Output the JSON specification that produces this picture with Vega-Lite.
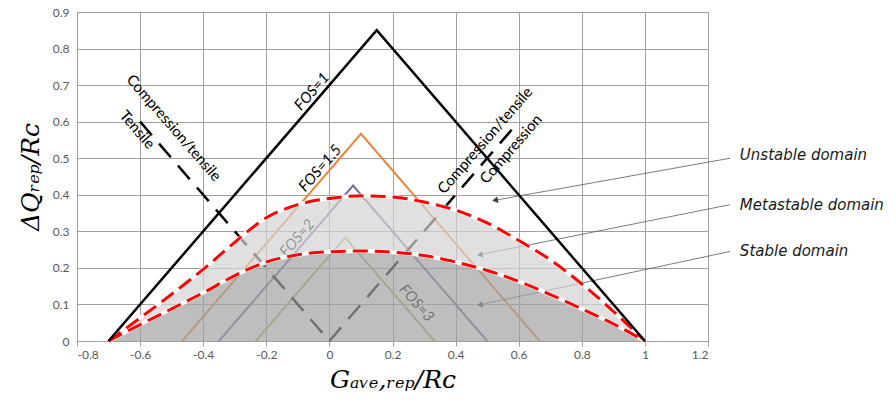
{
  "$schema": "https://vega.github.io/schema/vega-lite/v6.json",
  "width": 631,
  "height": 329,
  "autosize": {"type": "none"},
  "padding": {"left": 77, "top": 12, "right": 188, "bottom": 62},
  "background": "white",
  "config": {
    "view": {"stroke": null},
    "axis": {
      "gridColor": "#a0a0a0", "gridWidth": 1, "domainColor": "#a0a0a0", "domainWidth": 1,
      "tickColor": "#a0a0a0", "labelFont": "Lato", "labelFontSize": 12, "labelColor": "#595959",
      "titleFont": "DejaVu Serif", "titleFontStyle": "italic", "titleFontWeight": "normal",
      "titleFontSize": 25, "titleColor": "#000000"
    },
    "axisX": {"tickSize": 5, "labelPadding": 3, "titlePadding": 7},
    "axisY": {"ticks": false, "labelPadding": 8, "titlePadding": 9}
  },
  "datasets": {
    "fos": [
      {"s": "FOS=1", "x": -0.7, "y": 0}, {"s": "FOS=1", "x": 0.15, "y": 0.85}, {"s": "FOS=1", "x": 1, "y": 0},
      {"s": "FOS=1.5", "x": -0.4667, "y": 0}, {"s": "FOS=1.5", "x": 0.1, "y": 0.5667}, {"s": "FOS=1.5", "x": 0.6667, "y": 0},
      {"s": "FOS=2", "x": -0.35, "y": 0}, {"s": "FOS=2", "x": 0.075, "y": 0.425}, {"s": "FOS=2", "x": 0.5, "y": 0},
      {"s": "FOS=3", "x": -0.2333, "y": 0}, {"s": "FOS=3", "x": 0.05, "y": 0.2833}, {"s": "FOS=3", "x": 0.3333, "y": 0}
    ],
    "dashed": [
      {"s": "Tensile", "x": -0.6, "y": 0.6}, {"s": "Tensile", "x": 0, "y": 0},
      {"s": "Compression", "x": 0, "y": 0}, {"s": "Compression", "x": 0.6, "y": 0.6}
    ],
    "curves": [
      {"x": -0.7, "y": 0, "lo": 0},
      {"x": -0.6, "y": 0.063, "lo": 0.045},
      {"x": -0.5, "y": 0.128, "lo": 0.088},
      {"x": -0.4, "y": 0.196, "lo": 0.132},
      {"x": -0.3, "y": 0.27, "lo": 0.179},
      {"x": -0.2, "y": 0.337, "lo": 0.216},
      {"x": -0.1, "y": 0.373, "lo": 0.236},
      {"x": 0.0, "y": 0.39, "lo": 0.244},
      {"x": 0.1, "y": 0.397, "lo": 0.246},
      {"x": 0.2, "y": 0.394, "lo": 0.243},
      {"x": 0.3, "y": 0.38, "lo": 0.234},
      {"x": 0.4, "y": 0.358, "lo": 0.216},
      {"x": 0.5, "y": 0.323, "lo": 0.193},
      {"x": 0.6, "y": 0.275, "lo": 0.163},
      {"x": 0.7, "y": 0.222, "lo": 0.127},
      {"x": 0.8, "y": 0.156, "lo": 0.088},
      {"x": 0.9, "y": 0.081, "lo": 0.047},
      {"x": 1.0, "y": 0, "lo": 0}
    ],
    "arrows": [
      {"label": "Unstable domain", "x": 0.525, "y": 0.385, "xs": 1.27, "ys": 0.5},
      {"label": "Metastable domain", "x": 0.477, "y": 0.236, "xs": 1.27, "ys": 0.373},
      {"label": "Stable domain", "x": 0.477, "y": 0.099, "xs": 1.27, "ys": 0.245}
    ],
    "domainLabels": [
      {"t": "Unstable domain", "x": 1.301, "y": 0.51},
      {"t": "Metastable domain", "x": 1.301, "y": 0.373},
      {"t": "Stable domain", "x": 1.301, "y": 0.245}
    ],
    "fosUp": [
      {"t": "FOS=1", "x": -0.056, "y": 0.683},
      {"t": "FOS=1.5", "x": -0.03, "y": 0.473}
    ],
    "fos2": [{"t": "FOS=2", "x": -0.103, "y": 0.282}],
    "fos3": [{"t": "FOS=3", "x": 0.277, "y": 0.104}],
    "ctDown": [
      {"t": "Compression/tensile", "x": -0.493, "y": 0.583},
      {"t": "Tensile", "x": -0.609, "y": 0.578}
    ],
    "ctUp": [
      {"t": "Compression/tensile", "x": 0.493, "y": 0.549},
      {"t": "Compression", "x": 0.575, "y": 0.525}
    ]
  },
  "encoding": {
    "x": {
      "field": "x", "type": "quantitative",
      "scale": {"domain": [-0.8, 1.2], "nice": false, "zero": false},
      "axis": {
        "values": [-0.8, -0.6, -0.4, -0.2, 0, 0.2, 0.4, 0.6, 0.8, 1, 1.2],
        "labelExpr": "datum.value == 0 ? '0' : '' + round(datum.value*10)/10"
      },
      "title": "Gₐᵥₑ,ᵣₑₚ/Rᴄ"
    },
    "y": {
      "field": "y", "type": "quantitative",
      "scale": {"domain": [0, 0.9], "nice": false, "zero": false},
      "axis": {
        "values": [0, 0.1, 0.2, 0.3, 0.4, 0.5, 0.6, 0.7, 0.8, 0.9],
        "labelExpr": "datum.value == 0 ? '0' : '' + round(datum.value*10)/10"
      },
      "title": "ΔQᵣₑₚ/Rᴄ"
    }
  },
  "layer": [
    {
      "data": {"name": "fos"},
      "transform": [{"filter": "datum.s != 'FOS=1'"}],
      "mark": {"type": "line", "strokeWidth": 2},
      "encoding": {
        "color": {"field": "s", "type": "nominal", "legend": null,
          "scale": {"domain": ["FOS=1.5", "FOS=2", "FOS=3"], "range": ["#E5873A", "#7B64A2", "#9BBB59"]}}
      }
    },
    {
      "data": {"name": "dashed"},
      "mark": {"type": "line", "strokeWidth": 2.5, "color": "#000000", "strokeDash": [18, 11]},
      "encoding": {"detail": {"field": "s", "type": "nominal"}}
    },
    {
      "data": {"name": "fos2"},
      "mark": {"type": "text", "angle": -49, "font": "Lato", "fontStyle": "italic", "fontSize": 15, "color": "#000000"},
      "encoding": {"text": {"field": "t"}}
    },
    {
      "data": {"name": "fos3"},
      "mark": {"type": "text", "angle": 49, "font": "Lato", "fontStyle": "italic", "fontSize": 15, "color": "#000000"},
      "encoding": {"text": {"field": "t"}}
    },
    {
      "data": {"name": "arrows"},
      "mark": {"type": "rule", "color": "#595959", "strokeWidth": 0.8},
      "encoding": {"x2": {"field": "xs"}, "y2": {"field": "ys"}}
    },
    {
      "data": {"name": "arrows"},
      "mark": {"type": "point", "shape": "triangle-right", "angle": 169, "size": 45, "filled": true, "color": "#404040", "opacity": 1},
      "encoding": {}
    },
    {
      "data": {"name": "curves"},
      "mark": {"type": "area", "interpolate": "monotone", "color": "#d3d3d3", "fillOpacity": 0.7},
      "encoding": {"y2": {"field": "lo"}}
    },
    {
      "data": {"name": "curves"},
      "mark": {"type": "area", "interpolate": "monotone", "color": "#a3a3a3", "fillOpacity": 0.7},
      "encoding": {
        "y": {"field": "lo", "type": "quantitative", "scale": {"domain": [0, 0.9], "nice": false, "zero": false}, "title": "ΔQᵣₑₚ/Rᴄ"},
        "y2": {"datum": 0}
      }
    },
    {
      "data": {"name": "curves"},
      "mark": {"type": "line", "interpolate": "monotone", "color": "#ffffff", "strokeWidth": 4},
      "encoding": {}
    },
    {
      "data": {"name": "curves"},
      "mark": {"type": "line", "interpolate": "monotone", "color": "#ffffff", "strokeWidth": 4},
      "encoding": {
        "y": {"field": "lo", "type": "quantitative", "scale": {"domain": [0, 0.9], "nice": false, "zero": false}, "title": "ΔQᵣₑₚ/Rᴄ"}
      }
    },
    {
      "data": {"name": "curves"},
      "mark": {"type": "line", "interpolate": "monotone", "color": "#ff0000", "strokeWidth": 3, "strokeDash": [15, 7]},
      "encoding": {}
    },
    {
      "data": {"name": "curves"},
      "mark": {"type": "line", "interpolate": "monotone", "color": "#ff0000", "strokeWidth": 3, "strokeDash": [15, 7]},
      "encoding": {
        "y": {"field": "lo", "type": "quantitative", "scale": {"domain": [0, 0.9], "nice": false, "zero": false}, "title": "ΔQᵣₑₚ/Rᴄ"}
      }
    },
    {
      "data": {"name": "fos"},
      "transform": [{"filter": "datum.s == 'FOS=1'"}],
      "mark": {"type": "line", "strokeWidth": 2.5, "color": "#000000"},
      "encoding": {}
    },
    {
      "data": {"name": "fosUp"},
      "mark": {"type": "text", "angle": -49, "font": "Lato", "fontStyle": "italic", "fontSize": 15, "color": "#000000"},
      "encoding": {"text": {"field": "t"}}
    },
    {
      "data": {"name": "ctDown"},
      "mark": {"type": "text", "angle": 49, "font": "Lato", "fontSize": 15, "color": "#000000"},
      "encoding": {"text": {"field": "t"}}
    },
    {
      "data": {"name": "ctUp"},
      "mark": {"type": "text", "angle": -49, "font": "Lato", "fontSize": 15, "color": "#000000"},
      "encoding": {"text": {"field": "t"}}
    },
    {
      "data": {"name": "domainLabels"},
      "mark": {"type": "text", "align": "left", "baseline": "middle", "font": "DejaVu Sans", "fontStyle": "italic", "fontSize": 15, "color": "#1a1a1a"},
      "encoding": {"text": {"field": "t"}}
    }
  ]
}
